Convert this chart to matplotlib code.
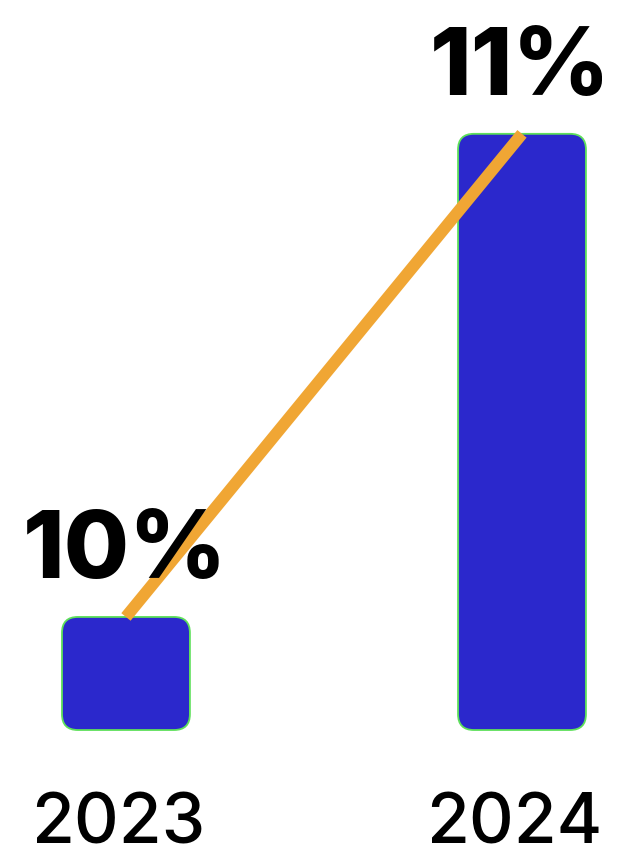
import matplotlib.pyplot as plt
from matplotlib.patches import FancyBboxPatch

years = ['2023', '2024']
values = [10, 11]
value_labels = ['10%', '11%']

baseline = 9.766
bar_width = 0.323
bar_color = '#2B28CC'
edge_color = '#5EE05A'
line_color = '#F0A634'

fig = plt.figure(figsize=(6.21, 8.59), dpi=100)
ax = fig.add_axes([0, 0, 1, 1])
ax.set_xlim(-0.318, 1.25)
ax.set_ylim(9.499, 11.277)
ax.axis('off')

# x unit ~396 px, y unit ~483 px -> keep corners round
aspect = 396 / 483
for i, v in enumerate(values):
    box = FancyBboxPatch((i - bar_width / 2, baseline), bar_width, v - baseline,
                         boxstyle='round,pad=0,rounding_size=0.04',
                         mutation_aspect=aspect,
                         facecolor=bar_color, edgecolor=edge_color, linewidth=1.3)
    ax.add_patch(box)

ax.plot(range(len(values)), values, color=line_color, linewidth=8.6,
        solid_capstyle='butt', zorder=3)

for i, (v, lab) in enumerate(zip(values, value_labels)):
    ax.annotate(lab, (i, v), xytext=(-1, 28), textcoords='offset points',
                ha='center', va='baseline', fontsize=68, fontweight='heavy',
                family='Inter', color='black')

for i, y in enumerate(years):
    ax.text(i - 0.02, 0.002, y, transform=ax.get_xaxis_transform(),
            ha='center', va='bottom', fontsize=50, fontweight='medium',
            family='Inter', color='black')

plt.savefig('out.png', dpi=100)
plt.close()
